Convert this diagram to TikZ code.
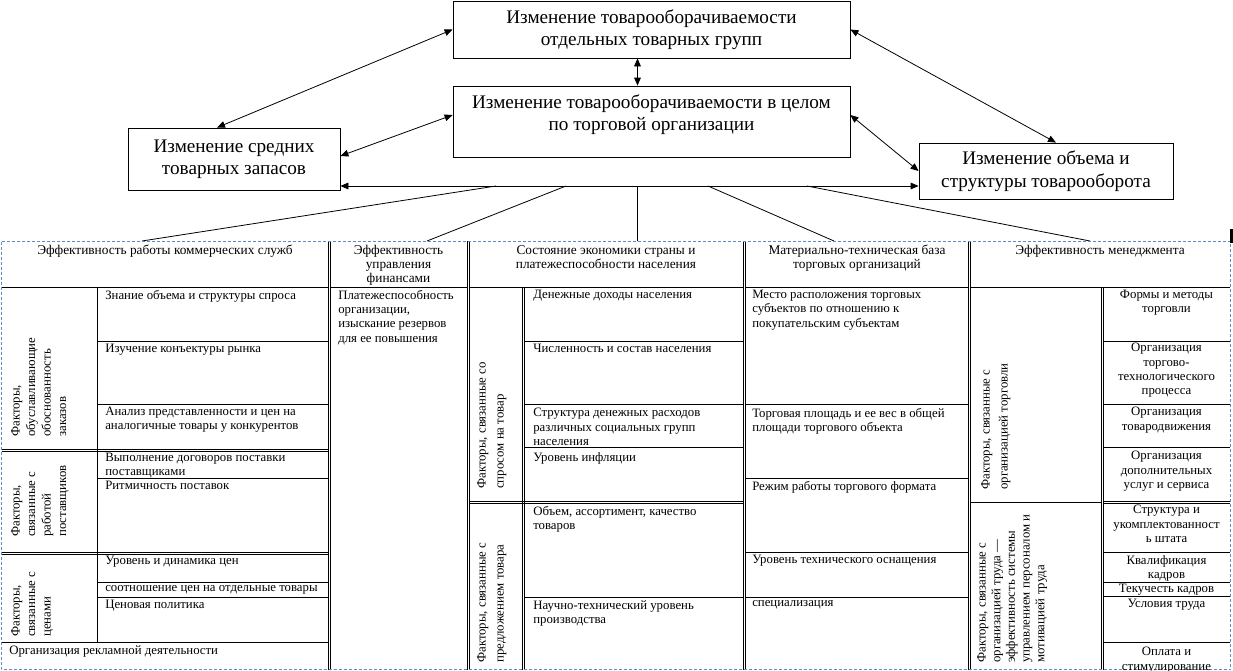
\documentclass[tikz,border=0pt]{standalone}
\usepackage{fontspec}
\setmainfont{Liberation Serif}
\usetikzlibrary{arrows.meta}
\newcommand\tabf{\fontsize{9.6}{10.7}\selectfont}
\newcommand\headf{\fontsize{10}{10.6}\selectfont}
\newcommand\rotf[1]{\fontsize{9.6}{#1}\selectfont}
\newcommand\boxf{\fontsize{14.4}{16.8}\selectfont}
\definecolor{frameblue}{RGB}{95,140,190}
\begin{document}
\begin{tikzpicture}[x=0.75pt,y=-0.75pt,
  grid/.style={line width=0.6pt},
  dar/.style={line width=0.6pt,{Triangle[length=6pt,width=5pt]}-{Triangle[length=6pt,width=5pt]}},
  link/.style={line width=0.6pt},
  bx/.style={draw,line width=0.6pt,inner sep=0pt,align=center,font=\boxf},
  cell/.style={anchor=north west,inner sep=0pt,align=left,font=\tabf},
  ccell/.style={anchor=north,inner sep=0pt,align=center,font=\tabf},
  hcell/.style={anchor=north,inner sep=0pt,align=center,font=\headf},
  vcell/.style={anchor=north west,inner sep=0pt,align=left,font={\rotf{#1}},rotate=90},
  vcell/.default=11.6,
  dashbd/.style={draw=frameblue,line width=0.6pt,dash pattern=on 2.25pt off 1.5pt}]
\useasboundingbox (0,0) rectangle (1233,671);

% top boxes
\node[bx,minimum width=297.75pt,minimum height=42.75pt] (A) at (651.5,29.5) {Изменение товарооборачиваемости\\отдельных товарных групп};
\node[bx,minimum width=297.75pt,minimum height=53.25pt] (B) at (651.5,121.5) {};
\node[font=\boxf,align=center,inner sep=0pt] (Bt) at (651.5,114.5) {Изменение товарооборачиваемости в целом\\по торговой организации};
\node[bx,minimum width=159pt,minimum height=46.5pt] (C) at (234,159) {Изменение средних\\товарных запасов};
\node[bx,minimum width=190.5pt,minimum height=42pt] (D) at (1046,171) {Изменение объема и\\структуры товарооборота};

% arrows
\draw[dar] (A.west) -- (217,0 |- C.north);
\draw[dar] (B.west |- 0,115) -- (C.east |- 0,156);
\draw[dar] (637.5,0 |- A.south) -- (637.5,0 |- B.north);
\draw[dar] (A.east) -- (1056,0 |- D.north);
\draw[dar] (B.east |- 0,115) -- (D.west);
\draw[dar] (C.east |- 0,186) -- (D.west |- 0,186);

% hub links
\coordinate (p1) at (496,186); \coordinate (t1) at (142,241);
\coordinate (p2) at (566,186); \coordinate (t2) at (427,241);
\coordinate (p3) at (637.5,186); \coordinate (t3) at (637.5,241);
\coordinate (p4) at (708,186); \coordinate (t4) at (834,241);
\coordinate (p5) at (807,186); \coordinate (t5) at (1090,241);
\draw[link] (p1)--(t1) (p2)--(t2) (p3)--(t3) (p4)--(t4) (p5)--(t5);

% grid col1
\draw[grid] (328,241)--(328,669.5);
\draw[grid] (2,287)--(328,287);
\draw[grid] (97,287)--(97,642);
\draw[grid] (97,341)--(328,341) (97,404)--(328,404);
\draw[grid] (2,449)--(328,449) (2,451)--(328,451);
\draw[grid] (97,478)--(328,478);
\draw[grid] (2,552)--(328,552) (2,554)--(328,554);
\draw[grid] (97,582)--(328,582) (97,597)--(328,597);
\draw[grid] (2,642)--(328,642);
% col2
\draw[grid] (330,241)--(330,669.5) (467,241)--(467,669.5);
\draw[grid] (330,287)--(467,287);
% col3
\draw[grid] (469,241)--(469,669.5) (743,241)--(743,669.5);
\draw[grid] (469,287)--(743,287);
\draw[grid] (522,287)--(522,669.5) (524,287)--(524,669.5);
\draw[grid] (524,341)--(743,341) (524,404)--(743,404) (524,447)--(743,447) (524,597)--(743,597);
\draw[grid] (469,501)--(743,501) (469,503)--(743,503);
% col4
\draw[grid] (745,241)--(745,669.5) (968,241)--(968,669.5);
\draw[grid] (745,287)--(968,287);
\draw[grid] (745,404)--(968,404) (745,478)--(968,478) (745,552)--(968,552) (745,597)--(968,597);
% col5
\draw[grid] (970,241)--(970,669.5);
\draw[grid] (970,287)--(1230,287);
\draw[grid] (1101,287)--(1101,669.5) (1103,287)--(1103,669.5);
\draw[grid] (970,502)--(1101,502);
\draw[grid] (1103,341)--(1230,341) (1103,404)--(1230,404) (1103,447)--(1230,447)
  (1103,501)--(1230,501) (1103,503)--(1230,503) (1103,552)--(1230,552)
  (1103,582)--(1230,582) (1103,596)--(1230,596) (1103,642)--(1230,642);

% outer dashed frame
\draw[dashbd] (1.5,241.5) rectangle (1230.5,669.5);
\fill (1229.5,229) rectangle (1232.5,243);

% headers
\node[hcell] (h1) at (165,245) {Эффективность работы коммерческих служб};
\node[hcell] (h2) at (398.5,245) {Эффективность\\управления\\финансами};
\node[hcell] (h3) at (606,245) {Состояние экономики страны и\\платежеспособности населения};
\node[hcell] (h4) at (857,245) {Материально-техническая база\\торговых организаций};
\node[hcell] (h5) at (1100,245) {Эффективность менеджмента};

% col1 cells
\node[cell] (c11) at (105,290) {Знание объема и структуры спроса};
\node[cell] (c12) at (105,344) {Изучение конъектуры рынка};
\node[cell] (c13) at (105,407) {Анализ представленности и цен на\\аналогичные товары у конкурентов};
\node[cell] (c14) at (105,453) {Выполнение договоров поставки\\поставщиками};
\node[cell] (c15) at (105,481) {Ритмичность поставок};
\node[cell] (c16) at (105,556) {Уровень и динамика цен};
\node[cell] (c17) at (105,585) {соотношение цен на отдельные товары};
\node[cell] (c18) at (105,600) {Ценовая политика};
\node[cell] (c19) at (9,645) {Организация рекламной деятельности};
\node[vcell] (v11) at (11,437) {Факторы,\\обуславливающие\\обоснованность\\заказов};
\node[vcell] (v12) at (11,537) {Факторы,\\связанные с\\работой\\поставщиков};
\node[vcell] (v13) at (11,637) {Факторы,\\связанные с\\ценами};

% col2
\node[cell] (c21) at (338,290) {Платежеспособность\\организации,\\изыскание резервов\\для ее повышения};

% col3
\node[vcell=13.5] (v31) at (477,489) {Факторы, связанные со\\спросом на товар};
\node[vcell=13.5] (v32) at (477,663) {Факторы, связанные с\\предложением товара};
\node[cell] (c31) at (533,290) {Денежные доходы населения};
\node[cell] (c32) at (533,344) {Численность  и состав населения};
\node[cell] (c33) at (533,408) {Структура денежных расходов\\различных социальных групп\\населения};
\node[cell] (c34) at (533,452) {Уровень инфляции};
\node[cell] (c35) at (533,506) {Объем, ассортимент, качество\\товаров};
\node[cell] (c36) at (533,600) {Научно-технический уровень\\производства};

% col4
\node[cell] (c41) at (752,290) {Место расположения торговых\\субъектов по отношению к\\покупательским субъектам};
\node[cell] (c42) at (752,408) {Торговая площадь и ее вес в общей\\площади торгового объекта};
\node[cell] (c43) at (752,481) {Режим работы торгового формата};
\node[cell] (c44) at (752,555) {Уровень технического оснащения};
\node[cell] (c45) at (752,600) {специализация};

% col5
\node[vcell=13.5] (v51) at (981,490) {Факторы, связанные с\\организацией торговли};
\node[vcell=11] (v52) at (977,663) {Факторы, связанные с\\организацией труда —\\эффективность системы\\управлением персоналом и\\мотивацией труда};
\node[ccell] (c51) at (1166.5,290) {Формы и методы\\торговли};
\node[ccell] (c52) at (1166.5,343) {Организация\\торгово-\\технологического\\процесса};
\node[ccell] (c53) at (1166.5,407) {Организация\\товародвижения};
\node[ccell] (c54) at (1166.5,451) {Организация\\дополнительных\\услуг и сервиса};
\node[ccell] (c55) at (1166.5,505) {Структура и\\укомплектованност\\ь штата};
\node[ccell] (c56) at (1166.5,555) {Квалификация\\кадров};
\node[ccell] (c57) at (1166.5,584) {Текучесть кадров};
\node[ccell] (c58) at (1166.5,599) {Условия труда};
\node[ccell] (c59) at (1166.5,647) {Оплата и\\стимулирование};
\end{tikzpicture}
\end{document}
